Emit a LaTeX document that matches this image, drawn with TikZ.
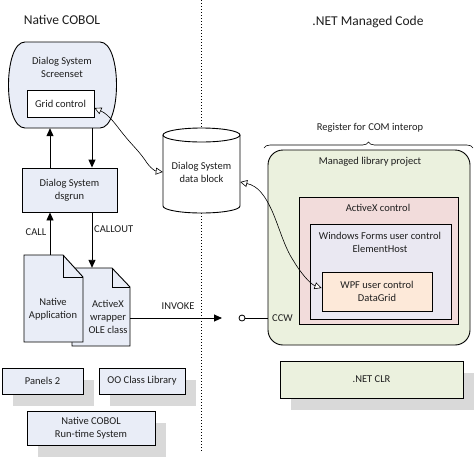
\documentclass[tikz,border=0pt]{standalone}
\usepackage{fontspec}
\setmainfont{Carlito}
\usetikzlibrary{arrows.meta,shadows,decorations.pathreplacing}
\definecolor{bluefill}{RGB}{233,237,247}
\definecolor{greenfill}{RGB}{235,241,222}
\definecolor{pinkfill}{RGB}{242,220,219}
\definecolor{lavfill}{RGB}{234,232,242}
\definecolor{peachfill}{RGB}{253,233,217}
\definecolor{shgrey}{RGB}{217,217,217}
\definecolor{txt}{RGB}{30,30,30}
\tikzset{
  lbl/.style={font=\fontsize{10.5}{12.8}\selectfont, text=txt, align=center, inner sep=0pt},
  ttl/.style={font=\fontsize{13.5}{15}\selectfont, text=txt, inner sep=0pt},
  plainbox/.style={draw=black, line width=0.9pt, inner sep=0pt, align=center,
     font=\fontsize{10.5}{12.8}\selectfont, text=txt},
  shbox/.style={plainbox, fill=bluefill, drop shadow={shadow xshift=11pt, shadow yshift=-12pt, fill=shgrey, opacity=1}},
  ln/.style={line width=0.9pt, draw=black},
  arr/.style={ln, -{Triangle[length=8pt,width=7pt]}},
  wavy/.style={line width=0.6pt, draw=black, {Triangle[open,length=7pt,width=7pt,fill=white]}-{Triangle[open,length=7pt,width=7pt,fill=white]}},
}
\begin{document}
\begin{tikzpicture}[x=1pt,y=-1pt]
\useasboundingbox[fill=white] (0,0) rectangle (476,459);

% divider
\draw[line width=0.8pt, dash pattern=on 0.8pt off 2.2pt] (201,0) -- (201,452);

% titles
\node[ttl] (tnat) at (62,20) {Native COBOL};
\node[ttl] (tnet) at (368,22) {.NET Managed Code};

% screenset
\node[minimum width=109pt, minimum height=86pt, inner sep=0pt] (ss) at (61.5,85) {};
\draw[ln, fill=bluefill] (25,42) -- (100,42) .. controls (122,42) and (122,128) .. (100,128)
   -- (25,128) .. controls (3,128) and (3,42) .. (25,42) -- cycle;
\node[lbl] (sst) at (62,67) {Dialog System\\Screenset};
\node[plainbox, fill=white, minimum width=67pt, minimum height=27pt] (grid) at (60.5,103.5) {Grid control};

% dsgrun
\node[plainbox, fill=bluefill, minimum width=95pt, minimum height=44pt] (dsg) at (69.5,190) {Dialog System\\dsgrun};

\coordinate (cx1) at (50,0);
\coordinate (cx2) at (92,0);
\draw[arr] (dsg.north -| cx1) -- (ss.south -| cx1);
\draw[arr] (ss.south -| cx2) -- (dsg.north -| cx2);

% cylinder
\node[minimum width=77pt, minimum height=85pt, inner sep=0pt] (db) at (201.5,170.5) {};
\draw[ln, fill=white] (163,135) -- (163,206) arc[start angle=180, end angle=360, x radius=38.5pt, y radius=7pt] -- (240,135);
\draw[ln, fill=white] (201.5,135) ellipse[x radius=38.5pt, y radius=7pt];
\node[lbl] (dbt) at (201.5,172) {Dialog System\\data block};

% documents
\node[minimum width=58pt, minimum height=78pt, inner sep=0pt] (ax) at (101,307) {};
\draw[ln, fill=bluefill] (72,268) -- (112,268) -- (130,287) -- (130,346) -- (72,346) -- cycle;
\draw[ln] (112,268) -- (112,287) -- (130,287);
\node[lbl] (axt) at (108,317) {ActiveX\\wrapper\\OLE class};

\node[minimum width=59pt, minimum height=87pt, inner sep=0pt] (napp) at (53.5,298.5) {};
\draw[ln, fill=bluefill] (24,255) -- (63,255) -- (83,277) -- (83,342) -- (24,342) -- cycle;
\draw[ln] (63,255) -- (63,277) -- (83,277);
\node[lbl] (nappt) at (53,309) {Native\\Application};

\draw[arr] (napp.north -| cx1) -- (dsg.south -| cx1);
\draw[arr] (dsg.south -| cx2) -- (ax.north -| cx2);
\node[lbl] (call) at (36,232) {CALL};
\node[lbl, anchor=west] (callout) at (94,229) {CALLOUT};

% bottom left boxes
\node[shbox, minimum width=81pt, minimum height=26pt] (pan) at (42.5,381) {Panels 2};
\node[shbox, minimum width=86pt, minimum height=26pt] (oo) at (142,381) {OO Class Library};
\node[shbox, minimum width=128pt, minimum height=34pt] (rts) at (91,428) {Native COBOL\\Run-time System};

% managed side
\node[lbl] (reg) at (370,128) {Register for COM interop};
\draw[line width=0.6pt, decorate, decoration={brace, amplitude=6pt}] (264,148) -- (473,148);

\node[draw=black, line width=0.9pt, fill=greenfill, rounded corners=15pt, minimum width=202pt, minimum height=195pt, inner sep=0pt] (mlp) at (369,247.5) {};
\node[lbl] (mlpt) at (370,162) {Managed library project};

\node[draw=black, line width=0.9pt, fill=pinkfill, minimum width=159pt, minimum height=127pt, inner sep=0pt] (axc) at (378.5,260.5) {};
\node[lbl] (axct) at (378,208) {ActiveX control};

\node[draw=black, line width=0.9pt, fill=lavfill, minimum width=141pt, minimum height=95pt, inner sep=0pt] (wf) at (380.5,271.5) {};
\node[lbl] (wft) at (380,242) {Windows Forms user control\\ElementHost};

\node[plainbox, fill=peachfill, minimum width=110pt, minimum height=39pt] (wpf) at (377,291.5) {WPF user control\\DataGrid};

% CCW
\node[draw=black, line width=0.8pt, fill=white, circle, minimum size=6pt, inner sep=0pt] (ccw) at (242,318) {};
\draw[ln] (ccw.east) -- (mlp.west |- ccw);
\node[lbl, anchor=west] (ccwt) at (272,318) {CCW};

% INVOKE
\draw[arr] (ax.east |- 0,318) -- (222,318);
\node[lbl] (inv) at (178,306) {INVOKE};

% CLR
\node[plainbox, fill=greenfill, minimum width=183pt, minimum height=37pt, drop shadow={shadow xshift=11pt, shadow yshift=-12pt, fill=shgrey, opacity=1}] (clr) at (371.5,379.5) {.NET CLR};

% wavy connectors
\draw[wavy] (grid.east |- 0,108) .. controls (110,115) and (118,128) .. (124,135)
   .. controls (132,145) and (138,150) .. (145,160) .. controls (150,168) and (155,171) .. (db.west |- 0,172);
\draw[wavy] (db.east |- 0,182) .. controls (258,186) and (265,195) .. (273,213)
   .. controls (280,230) and (285,248) .. (293,260) .. controls (300,272) and (310,284) .. (wpf.west |- 0,288);
\end{tikzpicture}
\end{document}
